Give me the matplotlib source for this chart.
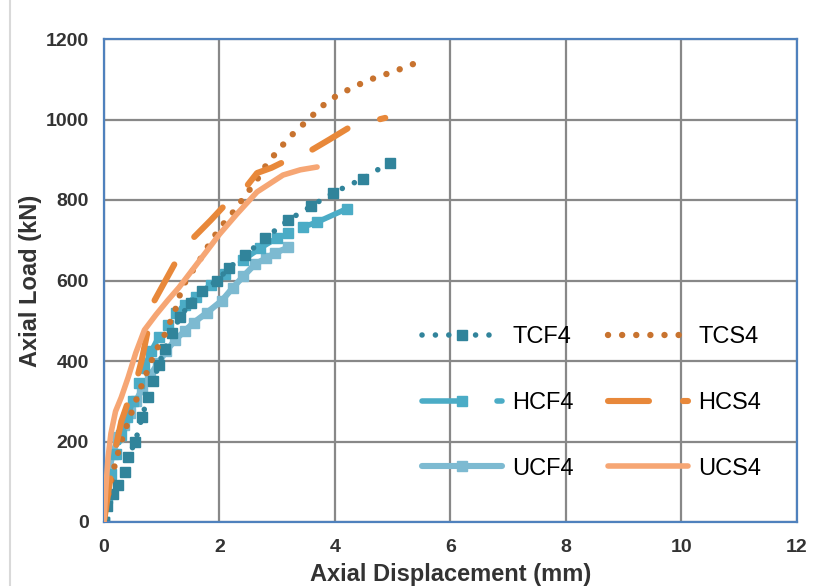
import numpy as np
import matplotlib
matplotlib.use("Agg")
import matplotlib.pyplot as plt
from matplotlib.lines import Line2D

plt.rcParams['font.family'] = ['Liberation Sans', 'DejaVu Sans']

# axial displacement (mm) / axial load (kN)
tcf4_x = [0, 0.05, 0.15, 0.24, 0.36, 0.42, 0.54, 0.66, 0.76, 0.85, 0.95, 1.05, 1.18, 1.32,
          1.5, 1.7, 1.96, 2.16, 2.44, 2.79, 3.19, 3.58, 3.97, 4.48, 4.95]
tcf4_y = [0, 40, 70, 92, 124, 162, 199, 261, 311, 350, 390, 430, 470, 510,
          545, 575, 600, 631, 663, 705, 750, 784, 818, 853, 893]

hcf4_x = [0, 0.05, 0.12, 0.2, 0.3, 0.4, 0.5, 0.6, 0.7, 0.82, 0.95, 1.1, 1.25, 1.4,
          1.6, 1.85, 2.1, 2.4, 2.7, 3.0, 3.19, 3.45, 3.69, 4.2]
hcf4_y = [0, 60, 120, 170, 215, 260, 300, 345, 385, 425, 460, 490, 520, 540,
          560, 590, 615, 650, 680, 706, 718, 733, 745, 778]

ucf4_x = [0, 0.03, 0.08, 0.15, 0.25, 0.35, 0.45, 0.55, 0.66, 0.8, 0.94, 1.08, 1.23, 1.4,
          1.55, 1.78, 2.04, 2.23, 2.41, 2.61, 2.8, 2.96, 3.19]
ucf4_y = [0, 60, 120, 170, 210, 240, 270, 300, 330, 365, 395, 425, 452, 475,
          495, 520, 550, 582, 610, 640, 655, 668, 682]

tcs4_x = [0, 0.05, 0.12, 0.2, 0.3, 0.42, 0.55, 0.68, 0.82, 0.95, 1.04, 1.14, 1.23, 1.3,
          1.39, 1.52, 1.65, 1.78, 1.9, 2.04, 2.2, 2.34, 2.48, 2.63, 2.75, 2.89, 3.05,
          3.2, 3.38, 3.55, 3.72, 3.91, 4.12, 4.33, 4.55, 4.78, 5.0, 5.23, 5.45]
tcs4_y = [0, 50, 100, 150, 200, 250, 300, 350, 400, 440, 462, 495, 525, 559,
          592, 621, 649, 680, 708, 736, 763, 790, 818, 845, 875, 902, 929,
          954, 979, 1001, 1026, 1049, 1066, 1081, 1096, 1108, 1118, 1131, 1143]

hcs4_x = [0, 0.08, 0.18, 0.3, 0.42, 0.55, 0.65, 0.75, 0.85, 1.26, 1.54, 1.85,
          2.13, 2.3, 2.48, 2.65, 2.9, 3.17, 3.57, 3.9, 4.29, 4.73, 4.87]
hcs4_y = [0, 80, 170, 250, 300, 345, 400, 470, 544, 651, 705, 750,
          793, 815, 836, 867, 880, 899, 922, 950, 984, 999, 1004]

ucs4_x = [0, 0.03, 0.07, 0.12, 0.2, 0.3, 0.42, 0.55, 0.7, 0.9, 1.1, 1.3, 1.55, 1.8,
          2.0, 2.3, 2.65, 3.1, 3.4, 3.69]
ucs4_y = [0, 80, 160, 220, 275, 310, 360, 420, 477, 515, 550, 583, 630, 677,
          715, 765, 820, 862, 875, 882]

c_tcf = '#31849B'
c_hcf = '#4BACC6'
c_ucf = '#7DBAD1'
c_tcs = '#C8732F'
c_hcs = '#E8883A'
c_ucs = '#F6A674'

DASH_ON, DASH_OFF = 29.5, 24.5   # long dash, in points

fig = plt.figure(figsize=(8.29, 5.86), dpi=100)
ax = fig.add_axes([104 / 829, 1 - 522 / 586, 693 / 829, 483 / 586])
ax.set_xlim(0, 12)
ax.set_ylim(0, 1200)


def long_dash(xs, ys, start_idx, lw):
    # phase the dash pattern so that a dash begins at point start_idx
    pts = ax.transData.transform(np.column_stack([xs, ys])) * 72 / fig.dpi
    seg = np.hypot(*np.diff(pts, axis=0).T)
    L = seg[:start_idx].sum()
    period = DASH_ON + DASH_OFF
    off = (-(L + lw / 2)) % period
    return (off / lw, (DASH_ON / lw, DASH_OFF / lw))


ax.plot(tcs4_x, tcs4_y, color=c_tcs, lw=4.6, linestyle=(0, (0.01, 2.2)),
        dash_capstyle='round', zorder=3)
ax.plot(hcs4_x, hcs4_y, color=c_hcs, lw=4.4, linestyle=long_dash(hcs4_x, hcs4_y, 8, 4.4),
        dash_capstyle='round', zorder=3)
ax.plot(ucs4_x, ucs4_y, color=c_ucs, lw=4.0, solid_capstyle='round', zorder=4)
ax.plot(ucf4_x, ucf4_y, color=c_ucf, lw=4.4, marker='s', ms=6.5,
        solid_capstyle='round', zorder=2)
ax.plot(hcf4_x, hcf4_y, color=c_hcf, lw=4.0, marker='s', ms=6.5,
        linestyle=long_dash(hcf4_x, hcf4_y, 21, 4.0), dash_capstyle='round', zorder=2)
ax.plot(tcf4_x, tcf4_y, color=c_tcf, lw=4.0, marker='s', ms=6.5,
        linestyle=(0, (0.01, 2.4)), dash_capstyle='round', zorder=2)

ax.set_xticks(np.arange(0, 13, 2))
ax.set_yticks(np.arange(0, 1201, 200))
ax.grid(True, color='#888888', lw=1.6)
ax.set_axisbelow(True)
ax.tick_params(length=0, labelcolor='#333333', labelsize=14)
ax.tick_params(axis='y', pad=11)
ax.tick_params(axis='x', pad=12)
for lab in ax.get_xticklabels() + ax.get_yticklabels():
    lab.set_fontweight('bold')
for s in ax.spines.values():
    s.set_color('#4F81BD')
    s.set_linewidth(1.6)

ax.set_xlabel('Axial Displacement (mm)', fontsize=17, fontweight='bold', color='#333333')
ax.xaxis.set_label_coords(0.5, -(575 - 522) / 483)
ax.xaxis.label.set_va('center')
ax.set_ylabel('Axial Load (kN)', fontsize=17, fontweight='bold', color='#333333')
ax.yaxis.set_label_coords((31 - 104) / 693, 0.5)
ax.yaxis.label.set_va('center')

# legend entries drawn with the dash pattern starting at the handle's left end
leg_handles = [
    Line2D([], [], color=c_tcf, lw=4.0, marker='s', ms=6.5,
           linestyle=(0, (0.01, 2.4)), dash_capstyle='round'),
    Line2D([], [], color=c_hcf, lw=4.0, marker='s', ms=6.5,
           linestyle=(0, (DASH_ON / 4.0, DASH_OFF / 4.0)), dash_capstyle='round'),
    Line2D([], [], color=c_ucf, lw=4.4, marker='s', ms=6.5, solid_capstyle='round'),
    Line2D([], [], color=c_tcs, lw=4.6, linestyle=(0, (0.01, 2.2)), dash_capstyle='round'),
    Line2D([], [], color=c_hcs, lw=4.4,
           linestyle=(0, (DASH_ON / 4.4, DASH_OFF / 4.4)), dash_capstyle='round'),
    Line2D([], [], color=c_ucs, lw=4.0, solid_capstyle='round'),
]
leg_labels = ['TCF4', 'HCF4', 'UCF4', 'TCS4', 'HCS4', 'UCS4']
leg = ax.legend(leg_handles, leg_labels, ncol=2, frameon=False,
                fontsize=17, handlelength=3.4, handletextpad=0.42,
                labelspacing=1.85, columnspacing=1.45,
                loc='upper left', bbox_to_anchor=(0.459, 0.405),
                borderaxespad=0, borderpad=0)

# thin page edge at the left
fig.add_artist(Line2D([10 / 829, 10 / 829], [0, 1], color='#d9d9d9', lw=1.5))

fig.savefig('out.png', dpi=100)
